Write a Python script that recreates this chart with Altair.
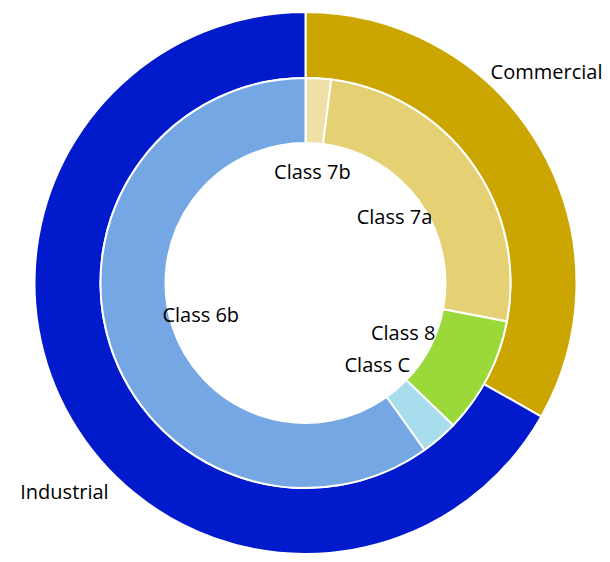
import altair as alt
import pandas as pd

outer_labels = ["Commercial", "Industrial"]
outer_values = [33.2, 66.8]
outer_colors = ["#CCA600", "#001ACC"]

inner_labels = ["Class 7b", "Class 7a", "Class 8", "Class C", "Class 6b"]
inner_values = [2.0, 26.0, 9.2, 2.95, 59.85]
inner_colors = ["#F0E0A8", "#E5D073", "#9BD83A", "#A8DDEE", "#74A7E4"]

outer = pd.DataFrame({"label": outer_labels, "value": outer_values,
                      "idx": range(len(outer_labels))})
inner = pd.DataFrame({"label": inner_labels, "value": inner_values,
                      "idx": range(len(inner_labels))})

FONT = "Open Sans"
FS = 20
CX, CY = 297.5, 275

def base(df):
    return alt.Chart(df).encode(
        theta=alt.Theta("value:Q", stack=True),
        order=alt.Order("idx:Q"),
        x=alt.value(CX), y=alt.value(CY),
    )

outer_arc = base(outer).mark_arc(radius=271, radius2=205, stroke="white", strokeWidth=2).encode(
    color=alt.Color("label:N", scale=alt.Scale(domain=outer_labels, range=outer_colors), legend=None)
)
inner_arc = base(inner).mark_arc(radius=205, radius2=140, stroke="white", strokeWidth=2).encode(
    color=alt.Color("label:N", scale=alt.Scale(domain=inner_labels, range=inner_colors), legend=None)
)
outer_text = base(outer).mark_text(radius=320, thetaOffset=-0.19, font=FONT, fontSize=FS,
                                   color="black").encode(text="label:N")
inner_text = base(inner).mark_text(radius=110, font=FONT, fontSize=FS,
                                   color="black").encode(text="label:N")

chart = alt.layer(outer_arc, inner_arc, outer_text, inner_text).resolve_scale(
    color="independent"
).properties(
    width=594, height=546, autosize=alt.AutoSizeParams(type="none"), padding=0
).configure_view(stroke=None)

chart.save("out.html", embed_options={"renderer": "svg", "actions": False})
